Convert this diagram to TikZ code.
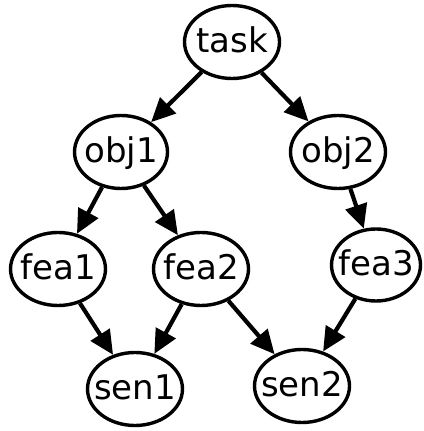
\documentclass[tikz,border=0pt]{standalone}
\usepackage{fontspec}
\setmainfont{DejaVu Sans}
\usetikzlibrary{arrows.meta,shapes.geometric}
\begin{document}
\begin{tikzpicture}[x=1pt,y=1pt,
  ell/.style={draw, ellipse, line width=3.4pt, inner sep=0pt,
    minimum width=95pt, minimum height=73pt,
    font=\fontsize{34}{40}\selectfont, text height=27pt, text depth=6pt},
  edge/.style={line width=4.2pt, -{Triangle[length=24pt,width=22pt]}}]
\useasboundingbox (0,0) rectangle (423,431);
\node[ell] (task) at (232,389) {\makebox[0pt]{task}};
\node[ell, minimum width=93pt] (obj1) at (121,279) {\makebox[0pt]{obj1}};
\node[ell] (obj2) at (338,279) {\makebox[0pt]{obj2}};
\node[ell] (fea1) at (58,162) {\makebox[0pt]{fea1}};
\node[ell] (fea2) at (201,162) {\makebox[0pt]{fea2}};
\node[ell, minimum width=89pt, minimum height=72pt] (fea3) at (376,166) {\makebox[0pt]{fea3}};
\node[ell] (sen1) at (135,42) {\makebox[0pt]{sen1}};
\node[ell] (sen2) at (302,45) {\makebox[0pt]{sen2}};
\draw[edge] (task) -- (obj1);
\draw[edge] (task) -- (obj2);
\draw[edge] (obj1) -- (fea1);
\draw[edge] (obj1) -- (fea2);
\draw[edge] (obj2) -- (fea3);
\draw[edge] (fea1) -- (sen1);
\draw[edge] (fea2) -- (sen1);
\draw[edge] (fea2) -- (sen2);
\draw[edge] (fea3) -- (sen2);
\end{tikzpicture}
\end{document}
